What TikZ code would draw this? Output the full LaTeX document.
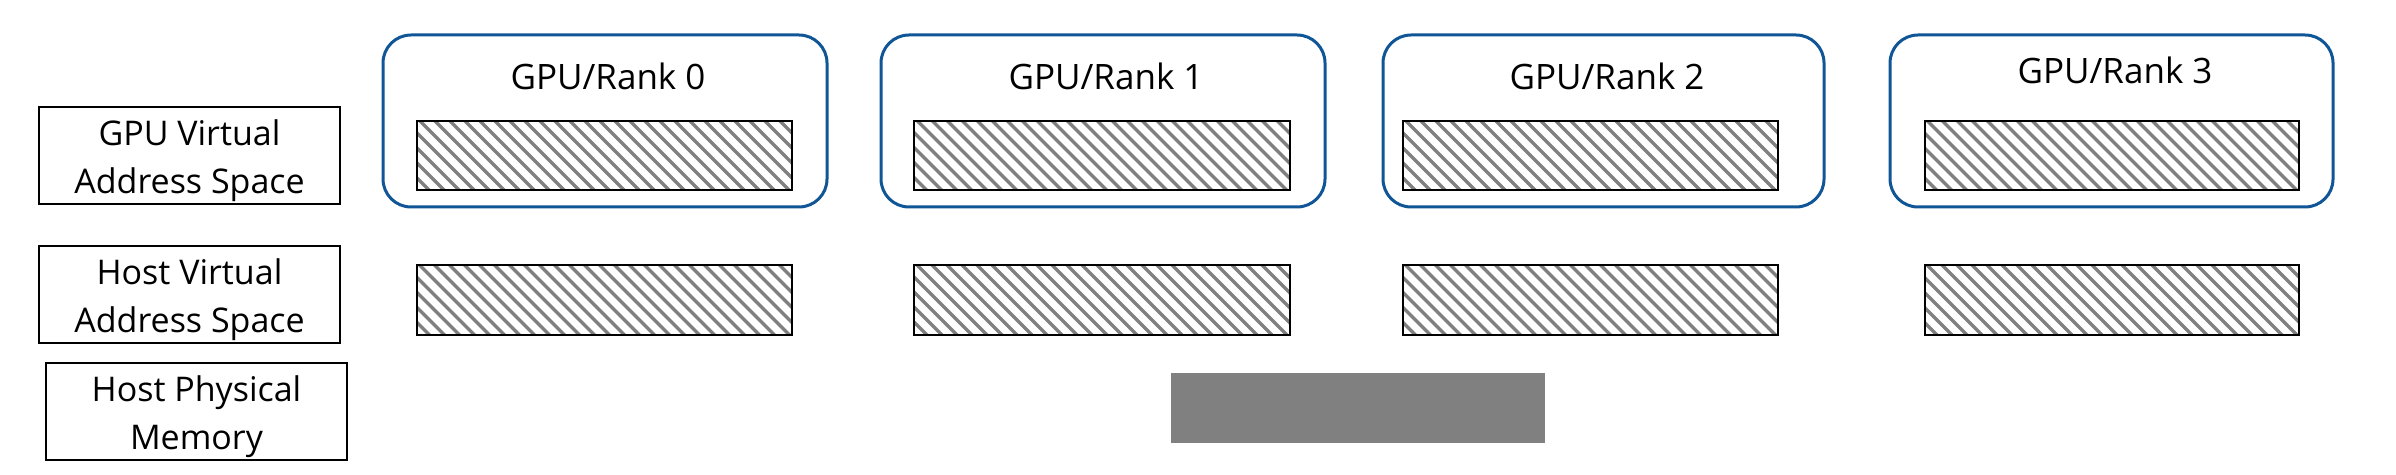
\documentclass[tikz,border=0pt]{standalone}
\usepackage{fontspec}
\setmainfont{Open Sans}
\usetikzlibrary{calc}
\definecolor{gpublue}{RGB}{16,86,150}
\definecolor{hatchgray}{RGB}{128,128,128}
\tikzset{
  labelbox/.style={draw=black, line width=0.65pt, inner sep=0pt,
    minimum width=150.5pt, minimum height=48.5pt},
  labeltext/.style={inner sep=0pt, align=center, yshift=-2.5pt,
    font=\fontsize{17}{24}\selectfont},
  gpubox/.style={draw=gpublue, line width=1.5pt, rounded corners=14pt, inner sep=0pt,
    minimum height=86pt},
  gputitle/.style={anchor=base, inner sep=0pt, font=\fontsize{17.5}{21}\selectfont},
  hatchbox/.style={draw=black, line width=1pt, inner sep=0pt,
    path picture={
      \foreach \i in {-18,...,18}
        \draw[hatchgray, line width=1.7pt]
          ([xshift=\i*7.5pt]path picture bounding box.center) ++(-45,-45) -- ++(90,90);
    }},
  physbox/.style={fill=hatchgray, draw=none, inner sep=0pt,
    minimum width=187pt, minimum height=35pt}
}
\begin{document}
\begin{tikzpicture}[x=0.5pt,y=-0.5pt]
\path[use as bounding box] (0,0) rectangle (2396,475);

% row labels
\node[labelbox, label={[labeltext]center:{GPU Virtual\\Address Space}}] (L1) at (189.5,155.5) {};
\node[labelbox, label={[labeltext]center:{Host Virtual\\Address Space}}] (L2) at (189.5,294.5) {};
\node[labelbox, label={[labeltext]center:{Host Physical\\Memory}}] (L3) at (196.5,411.5) {};

% GPU boxes
\node[gpubox, minimum width=222pt]   (B0) at (605,121) {};
\node[gpubox, minimum width=222pt]   (B1) at (1103,121) {};
\node[gpubox, minimum width=220.5pt] (B2) at (1603.5,121) {};
\node[gpubox, minimum width=221.5pt] (B3) at (2111.5,121) {};

% titles
\node[gputitle] (T0) at (608,90) {GPU/Rank 0};
\node[gputitle] (T1) at (1106,90) {GPU/Rank 1};
\node[gputitle] (T2) at (1607,90) {GPU/Rank 2};
\node[gputitle] (T3) at (2115,84) {GPU/Rank 3};

% GPU virtual address ranges
\node[hatchbox, minimum width=187.5pt, minimum height=34.5pt] (G0) at (604.5,155.5) {};
\node[hatchbox, minimum width=188pt,   minimum height=34.5pt] (G1) at (1102,155.5) {};
\node[hatchbox, minimum width=187.5pt, minimum height=34.5pt] (G2) at (1590.5,155.5) {};
\node[hatchbox, minimum width=187pt,   minimum height=34.5pt] (G3) at (2112,155.5) {};

% host virtual address ranges
\node[hatchbox, minimum width=187.5pt, minimum height=35pt] (H0) at (604.5,300) {};
\node[hatchbox, minimum width=188pt,   minimum height=35pt] (H1) at (1102,300) {};
\node[hatchbox, minimum width=187.5pt, minimum height=35pt] (H2) at (1590.5,300) {};
\node[hatchbox, minimum width=187pt,   minimum height=35pt] (H3) at (2112,300) {};

% host physical memory
\node[physbox] (P) at (1358,408) {};
\end{tikzpicture}
\end{document}
